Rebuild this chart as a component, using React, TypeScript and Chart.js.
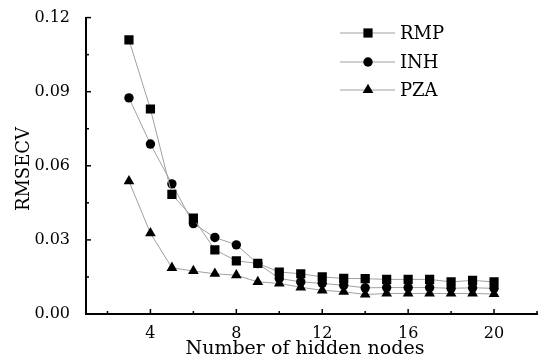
import React, { useEffect, useRef } from "react";
import { Chart, registerables } from "chart.js";

Chart.register(...registerables);

const hiddenNodes = [3, 4, 5, 6, 7, 8, 9, 10, 11, 12, 13, 14, 15, 16, 17, 18, 19, 20];
const rmp = [0.111, 0.083, 0.0484, 0.0388, 0.026, 0.0215, 0.0205, 0.017, 0.0163, 0.015, 0.0144, 0.0143, 0.014, 0.014, 0.014, 0.013, 0.0136, 0.013];
const inh = [0.0875, 0.0688, 0.0527, 0.0366, 0.031, 0.028, 0.0204, 0.0144, 0.013, 0.0124, 0.0116, 0.0106, 0.0107, 0.0107, 0.0107, 0.0104, 0.0106, 0.0104];
const pza = [0.0538, 0.0327, 0.0187, 0.0174, 0.0163, 0.0157, 0.013, 0.0124, 0.0108, 0.0096, 0.009, 0.0079, 0.0083, 0.0083, 0.0083, 0.0083, 0.0083, 0.0081];
const seriesNames = ["RMP", "INH", "PZA"];
const xTicks = [4, 8, 12, 16, 20];
const xMinorTicks = [2, 6, 10, 14, 18, 22];
const yTicks = [0, 0.03, 0.06, 0.09, 0.12];
const yMinorTicks = [0.015, 0.045, 0.075, 0.105];
const xTitle = "Number of hidden nodes";
const yTitle = "RMSECV";

const FONT = "'DejaVu Serif', serif";

function drawMarker(ctx: CanvasRenderingContext2D, style: string, r: number, x: number, y: number) {
  ctx.beginPath();
  if (style === "rect") {
    const s = Math.SQRT1_2 * r;
    ctx.rect(x - s, y - s, 2 * s, 2 * s);
  } else if (style === "triangle") {
    let rad = 0;
    ctx.moveTo(x + Math.sin(rad) * r, y - Math.cos(rad) * r);
    rad += (2 * Math.PI) / 3;
    ctx.lineTo(x + Math.sin(rad) * r, y - Math.cos(rad) * r);
    rad += (2 * Math.PI) / 3;
    ctx.lineTo(x + Math.sin(rad) * r, y - Math.cos(rad) * r);
    ctx.closePath();
  } else {
    ctx.arc(x, y, r, 0, Math.PI * 2);
  }
  ctx.fill();
}

const customPlugin = {
  id: "custom",
  afterDraw(chart: any) {
    const ctx = chart.ctx;
    const xs = chart.scales.x;
    const ys = chart.scales.y;
    const area = chart.chartArea;
    ctx.save();
    ctx.strokeStyle = "#000";
    ctx.lineWidth = 1.5;
    for (const v of yTicks) {
      const y = ys.getPixelForValue(v);
      ctx.beginPath(); ctx.moveTo(area.left, y); ctx.lineTo(area.left + 5, y); ctx.stroke();
    }
    for (const v of yMinorTicks) {
      const y = ys.getPixelForValue(v);
      ctx.beginPath(); ctx.moveTo(area.left, y); ctx.lineTo(area.left + 3, y); ctx.stroke();
    }
    for (const v of xTicks) {
      const x = xs.getPixelForValue(v);
      ctx.beginPath(); ctx.moveTo(x, area.bottom); ctx.lineTo(x, area.bottom - 5); ctx.stroke();
    }
    for (const v of xMinorTicks) {
      const x = xs.getPixelForValue(v);
      ctx.beginPath(); ctx.moveTo(x, area.bottom); ctx.lineTo(x, area.bottom - 3); ctx.stroke();
    }
    ctx.fillStyle = "#000";
    ctx.font = `19px ${FONT}`;
    ctx.textAlign = "center";
    ctx.textBaseline = "middle";
    ctx.fillText(xTitle, 305, 349);
    ctx.save();
    ctx.translate(24, 169);
    ctx.rotate(-Math.PI / 2);
    ctx.font = `18px ${FONT}`;
    ctx.fillText(yTitle, 0, 0);
    ctx.restore();
    const rows = [33, 62, 90];
    chart.data.datasets.forEach((ds: any, i: number) => {
      const y = rows[i];
      ctx.strokeStyle = ds.borderColor;
      ctx.lineWidth = 1;
      ctx.beginPath(); ctx.moveTo(340, y); ctx.lineTo(395, y); ctx.stroke();
      ctx.fillStyle = ds.pointBackgroundColor;
      drawMarker(ctx, ds.pointStyle, ds.pointRadius, 368, y);
      ctx.fillStyle = "#000";
      ctx.font = `18px ${FONT}`;
      ctx.textAlign = "left";
      ctx.textBaseline = "middle";
      ctx.fillText(ds.label, 400, y + 1);
    });
    ctx.restore();
  },
};

export default function App() {
  const ref = useRef<HTMLCanvasElement>(null);
  useEffect(() => {
    if (!ref.current) return;
    const mk = (label: string, vals: number[], style: string, r: number) => ({
      label,
      data: hiddenNodes.map((x, i) => ({ x, y: vals[i] })),
      borderColor: "#a0a0a0",
      borderWidth: 1,
      pointStyle: style,
      pointRadius: r,
      pointBackgroundColor: "#000",
      pointBorderColor: "#000",
      pointBorderWidth: 0,
      showLine: true,
      tension: 0,
    });
    const chart = new Chart(ref.current, {
      type: "scatter",
      data: {
        datasets: [
          mk(seriesNames[0], rmp, "rect", 6.5),
          mk(seriesNames[1], inh, "circle", 4.7),
          mk(seriesNames[2], pza, "triangle", 6.2),
        ],
      },
      options: {
        animation: false,
        responsive: false,
        layout: { padding: { top: 15, right: 9, left: 0, bottom: 0 } },
        plugins: { legend: { display: false }, tooltip: { enabled: false } },
        scales: {
          x: {
            type: "linear",
            min: 1,
            max: 22,
            grid: { display: false },
            border: { display: true, color: "#000", width: 2 },
            afterBuildTicks: (s: any) => { s.ticks = xTicks.map((v) => ({ value: v })); },
            afterFit: (s: any) => { s.height = 49; },
            ticks: { color: "#000", font: { family: FONT, size: 16 }, padding: 2, maxRotation: 0, autoSkip: false },
          },
          y: {
            type: "linear",
            min: 0,
            max: 0.12,
            grid: { display: false },
            border: { display: true, color: "#000", width: 2 },
            afterBuildTicks: (s: any) => { s.ticks = yTicks.map((v) => ({ value: v })); },
            afterFit: (s: any) => { s.width = 86; },
            ticks: {
              color: "#000",
              font: { family: FONT, size: 16 },
              padding: 8,
              autoSkip: false,
              callback: (v: any) => Number(v).toFixed(2),
            },
          },
        },
      },
      plugins: [customPlugin],
    });
    return () => chart.destroy();
  }, []);
  return (
    <div style={{ position: "fixed", left: 0, top: 0, width: 546, height: 363, background: "#fff" }}>
      <canvas ref={ref} width={546} height={363} style={{ width: 546, height: 363 }} />
    </div>
  );
}
